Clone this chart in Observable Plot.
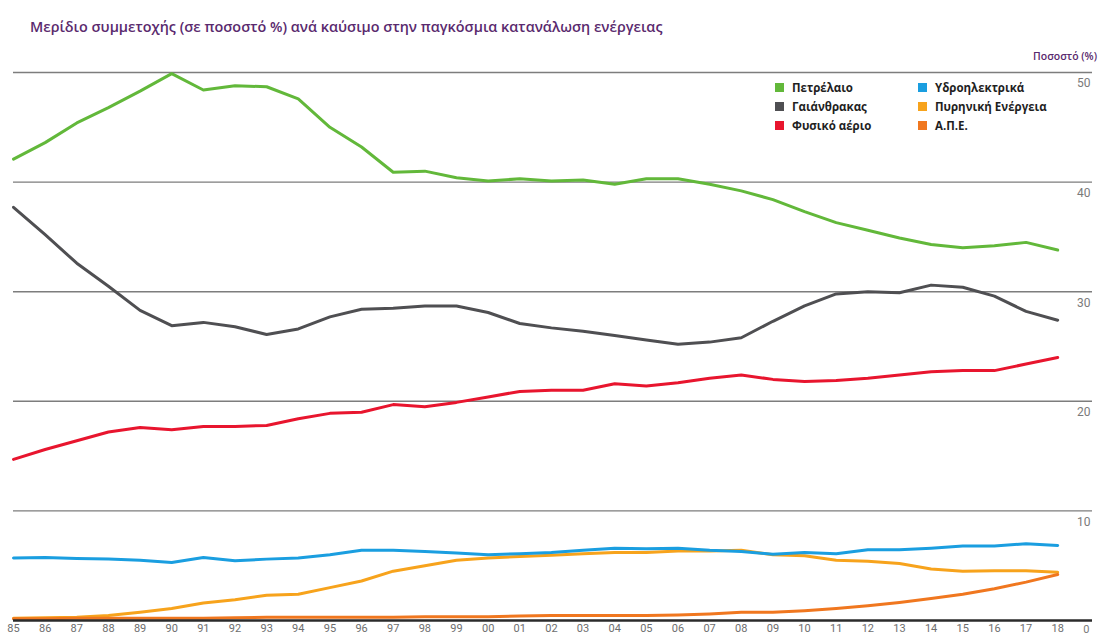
<!DOCTYPE html>
<html>
<head>
<meta charset="utf-8">
<script src="https://cdn.jsdelivr.net/npm/d3@7"></script>
<script src="https://cdn.jsdelivr.net/npm/@observablehq/plot@0.6"></script>
<style>
  html, body { margin: 0; padding: 0; background: #fff; }
  body { width: 1099px; height: 635px; overflow: hidden; position: relative; font-family: "Open Sans", "DejaVu Sans", sans-serif; }
  #title { position: absolute; left: 30px; top: 17px; font-size: 14.4px; font-weight: 600; color: #5a2a6e; white-space: nowrap; }
  #unit { position: absolute; right: 2px; top: 49px; z-index: 2; font-size: 10.5px; font-weight: 600; color: #5a2a6e; white-space: nowrap; }
  #chart { position: absolute; left: 0; top: 40px; z-index: 1; }
  #legend { position: absolute; left: 775px; top: 79px; z-index: 2; display: grid; grid-template-columns: 143px 170px; row-gap: 3px; }
  .item { display: flex; align-items: center; height: 16px; font-size: 11.5px; font-weight: 700; color: #1f1f1f; white-space: nowrap; }
  .sw { width: 9px; height: 9px; margin-right: 8px; flex: none; }
</style>
</head>
<body>
<div id="title">Μερίδιο συμμετοχής (σε ποσοστό %) ανά καύσιμο στην παγκόσμια κατανάλωση ενέργειας</div>
<div id="unit">Ποσοστό (%)</div>
<div id="chart"></div>
<div id="legend"></div>
<script>
// Years 1985–2018
const years = [1985, 1986, 1987, 1988, 1989, 1990, 1991, 1992, 1993, 1994, 1995, 1996,
  1997, 1998, 1999, 2000, 2001, 2002, 2003, 2004, 2005, 2006, 2007, 2008,
  2009, 2010, 2011, 2012, 2013, 2014, 2015, 2016, 2017, 2018];

// Share of world energy consumption per fuel (%)
const oil = [42.1, 43.6, 45.4, 46.8, 48.3, 49.9, 48.4, 48.8, 48.7, 47.6, 45.0, 43.2,
  40.9, 41.0, 40.4, 40.1, 40.3, 40.1, 40.2, 39.8, 40.3, 40.3, 39.8, 39.2,
  38.4, 37.3, 36.3, 35.6, 34.9, 34.3, 34.0, 34.2, 34.5, 33.8];
const coal = [37.7, 35.2, 32.6, 30.5, 28.3, 26.9, 27.2, 26.8, 26.1, 26.6, 27.7, 28.4,
  28.5, 28.7, 28.7, 28.1, 27.1, 26.7, 26.4, 26.0, 25.6, 25.2, 25.4, 25.8,
  27.3, 28.7, 29.8, 30.0, 29.9, 30.6, 30.4, 29.6, 28.2, 27.4];
const gas = [14.7, 15.6, 16.4, 17.2, 17.6, 17.4, 17.7, 17.7, 17.8, 18.4, 18.9, 19.0,
  19.7, 19.5, 19.9, 20.4, 20.9, 21.0, 21.0, 21.6, 21.4, 21.7, 22.1, 22.4,
  22.0, 21.8, 21.9, 22.1, 22.4, 22.7, 22.8, 22.8, 23.4, 24.0];
const hydro = [5.7, 5.75, 5.65, 5.6, 5.5, 5.3, 5.75, 5.45, 5.6, 5.7, 6.0, 6.4,
  6.4, 6.3, 6.15, 6.0, 6.1, 6.2, 6.4, 6.6, 6.55, 6.6, 6.4, 6.3,
  6.05, 6.2, 6.1, 6.45, 6.45, 6.6, 6.8, 6.8, 7.0, 6.85];
const nuclear = [0.2, 0.25, 0.3, 0.45, 0.75, 1.1, 1.6, 1.9, 2.3, 2.4, 3.0, 3.6,
  4.5, 5.0, 5.5, 5.7, 5.85, 5.95, 6.1, 6.2, 6.2, 6.35, 6.35, 6.4,
  6.0, 5.9, 5.5, 5.4, 5.2, 4.7, 4.5, 4.55, 4.55, 4.4];
const renewables = [0.15, 0.15, 0.2, 0.2, 0.2, 0.2, 0.2, 0.25, 0.3, 0.3, 0.3, 0.3,
  0.3, 0.35, 0.35, 0.35, 0.4, 0.45, 0.45, 0.45, 0.45, 0.5, 0.6, 0.75,
  0.75, 0.9, 1.1, 1.35, 1.65, 2.0, 2.4, 2.9, 3.5, 4.2];

// Fuel names and colours (legend order)
const fuels = ["Πετρέλαιο", "Γαιάνθρακας", "Φυσικό αέριο", "Υδροηλεκτρικά", "Πυρηνική Ενέργεια", "Α.Π.Ε."];
const fuelColors = ["#62b83a", "#4f4f52", "#e8152e", "#1a9ee0", "#f7a31c", "#f0771f"];
const fuelValues = [oil, coal, gas, hydro, nuclear, renewables];

// Axis ticks: gridlines carry their labels just beneath them; 0 sits under the baseline
const gridTicks = [10, 20, 30, 40, 50];
const zeroTick = [0];

// Drawing order: lower series first so the large shares sit on top
const drawOrder = [4, 5, 3, 2, 1, 0];
const rows = drawOrder.flatMap(i =>
  years.map((year, j) => ({year, value: fuelValues[i][j], fuel: fuels[i]}))
);

const chart = Plot.plot({
  width: 1099,
  height: 595,
  marginTop: 32,
  marginBottom: 15,
  marginLeft: 13,
  marginRight: 7,
  x: {domain: [1985, 2019.1], axis: null},
  y: {domain: [0, 50], axis: null},
  color: {domain: fuels, range: fuelColors},
  style: {fontFamily: "Roboto, 'Liberation Sans', sans-serif", background: "transparent"},
  marks: [
    Plot.ruleY(gridTicks, {stroke: "#7d7d7d", strokeWidth: 1.4}),
    Plot.line(rows, {
      x: "year", y: "value", z: "fuel", stroke: "fuel",
      strokeWidth: 3, strokeLinejoin: "round", strokeLinecap: "round"
    }),
    Plot.ruleY(zeroTick, {stroke: "#2b2b2b", strokeWidth: 2.5}),
    Plot.text(gridTicks, {
      y: d => d, frameAnchor: "right", textAnchor: "end", dx: -2, dy: 11,
      text: d => String(d), fill: "#7a7a7a", fontSize: 12
    }),
    Plot.text(zeroTick, {
      y: d => d, frameAnchor: "right", textAnchor: "end", dx: -3, dy: 9,
      text: d => String(d), fill: "#7a7a7a", fontSize: 11
    }),
    Plot.axisX({
      ticks: years, tickSize: 0, tickPadding: 4,
      tickFormat: d => String(d % 100).padStart(2, "0"),
      fill: "#6e6e6e", fontSize: 11, label: null
    })
  ]
});
document.getElementById("chart").appendChild(chart);

// Legend: two columns of three entries
const legend = document.getElementById("legend");
const legendOrder = [0, 3, 1, 4, 2, 5];
for (const i of legendOrder) {
  const item = document.createElement("div");
  item.className = "item";
  const sw = document.createElement("span");
  sw.className = "sw";
  sw.style.background = fuelColors[i];
  item.appendChild(sw);
  item.appendChild(document.createTextNode(fuels[i]));
  legend.appendChild(item);
}
</script>
</body>
</html>
